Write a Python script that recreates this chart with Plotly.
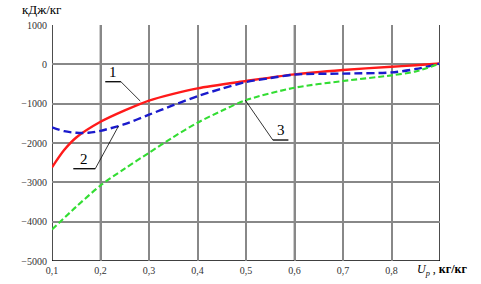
import plotly.graph_objects as go

# Curve 1 (red, solid)
x1 = [0.10, 0.125, 0.15, 0.20, 0.25, 0.30, 0.35, 0.40, 0.50, 0.60, 0.70, 0.80, 0.85, 0.90]
y1 = [-2620, -2180, -1860, -1460, -1170, -920, -750, -610, -425, -255, -145, -60, -25, 20]

# Curve 2 (blue, dashed)
x2 = [0.10, 0.125, 0.15, 0.175, 0.20, 0.25, 0.30, 0.35, 0.40, 0.45, 0.50, 0.55, 0.60, 0.70, 0.80, 0.85, 0.90]
y2 = [-1600, -1700, -1740, -1740, -1690, -1520, -1280, -1040, -810, -620, -450, -350, -260, -235, -205, -120, 20]

# Curve 3 (green, dashed)
x3 = [0.10, 0.15, 0.20, 0.25, 0.30, 0.35, 0.40, 0.45, 0.50, 0.60, 0.70, 0.80, 0.85, 0.90]
y3 = [-4200, -3620, -3080, -2650, -2250, -1850, -1485, -1180, -910, -595, -425, -280, -180, 20]

x_ticks = [0.1, 0.2, 0.3, 0.4, 0.5, 0.6, 0.7, 0.8]
x_ticktext = ["0,1", "0,2", "0,3", "0,4", "0,5", "0,6", "0,7", "0,8"]
y_ticks = [1000, 0, -1000, -2000, -3000, -4000, -5000]
y_ticktext = ["1000", "0", "\u22121000", "\u22122000", "\u22123000", "\u22124000", "\u22125000"]

black_x = [0.1, 0.2, 0.6, 0.9]
black_y = [-5000, -3000, -1000]

SERIF = "Liberation Serif"

fig = go.Figure()
fig.add_trace(go.Scatter(x=x1, y=y1, mode="lines", line=dict(color="#ff1a1a", width=2.4, shape="spline", smoothing=0.8)))
fig.add_trace(go.Scatter(x=x2, y=y2, mode="lines", line=dict(color="#1a1acc", width=2.4, dash="8px,4px", shape="spline", smoothing=0.8)))
fig.add_trace(go.Scatter(x=x3, y=y3, mode="lines", line=dict(color="#33dd33", width=2.1, dash="6px,3px", shape="spline", smoothing=0.8)))

shapes = []
for xv in black_x:
    shapes.append(dict(type="line", xref="x", yref="y", x0=xv, x1=xv, y0=-5000, y1=1000,
                       line=dict(color="black", width=1.4), layer="below"))
for yv in black_y:
    shapes.append(dict(type="line", xref="x", yref="y", x0=0.1, x1=0.9, y0=yv, y1=yv,
                       line=dict(color="black", width=1.4), layer="below"))

# label leaders and underlines
def seg(xa, ya, xb, yb, w):
    return dict(type="line", xref="x", yref="y", x0=xa, y0=ya, x1=xb, y1=yb,
                line=dict(color="black", width=w))

shapes += [
    seg(0.2098, -442, 0.2421, -442, 1.3), seg(0.2421, -442, 0.2819, -933, 0.8),
    seg(0.1439, -2654, 0.1892, -2654, 1.3), seg(0.1892, -2654, 0.2372, -1568, 0.8),
    seg(0.5553, -1924, 0.5874, -1924, 1.3), seg(0.5553, -1924, 0.4982, -907, 0.8),
]

annotations = [
    dict(x=0.2263, y=-442, text="1", showarrow=False, xanchor="center", yanchor="bottom",
         font=dict(family=SERIF, size=15, color="black")),
    dict(x=0.1665, y=-2654, text="2", showarrow=False, xanchor="center", yanchor="bottom",
         font=dict(family=SERIF, size=15, color="black")),
    dict(x=0.5714, y=-1924, text="3", showarrow=False, xanchor="center", yanchor="bottom",
         font=dict(family=SERIF, size=15, color="black")),
    dict(xref="paper", yref="paper", x=-0.083, y=1.0, yshift=6, text="кДж/кг", showarrow=False,
         xanchor="left", yanchor="bottom", font=dict(family=SERIF, size=13, color="black")),
    dict(xref="paper", yref="paper", x=1.0, y=0, yshift=-19, xshift=-25, text="<i>U</i><sub><i>p</i></sub> , <b>кг/кг</b>",
         showarrow=False, xanchor="left", yanchor="bottom", font=dict(family=SERIF, size=12, color="black")),
]

fig.update_layout(
    width=481, height=284,
    margin=dict(l=52, r=41, t=25, b=23, autoexpand=False),
    paper_bgcolor="white", plot_bgcolor="white",
    showlegend=False,
    shapes=shapes,
    annotations=annotations,
    xaxis=dict(range=[0.1, 0.9], tickvals=x_ticks, ticktext=x_ticktext, showgrid=True, automargin=False,
               gridcolor="#888888", gridwidth=2, zeroline=False, showline=False,
               tickfont=dict(family=SERIF, size=10, color="#333"), ticks="", ticklabelstandoff=2),
    yaxis=dict(range=[-5000, 1000], tickvals=y_ticks, ticktext=y_ticktext, showgrid=True, automargin=False,
               gridcolor="#888888", gridwidth=2, zeroline=False, showline=False,
               tickfont=dict(family=SERIF, size=10, color="#333"), ticks="", ticklabelstandoff=4),
)

fig.write_html("out.html", config={"displayModeBar": False},
               post_script="document.body.style.margin='0';document.body.style.overflow='hidden';")
